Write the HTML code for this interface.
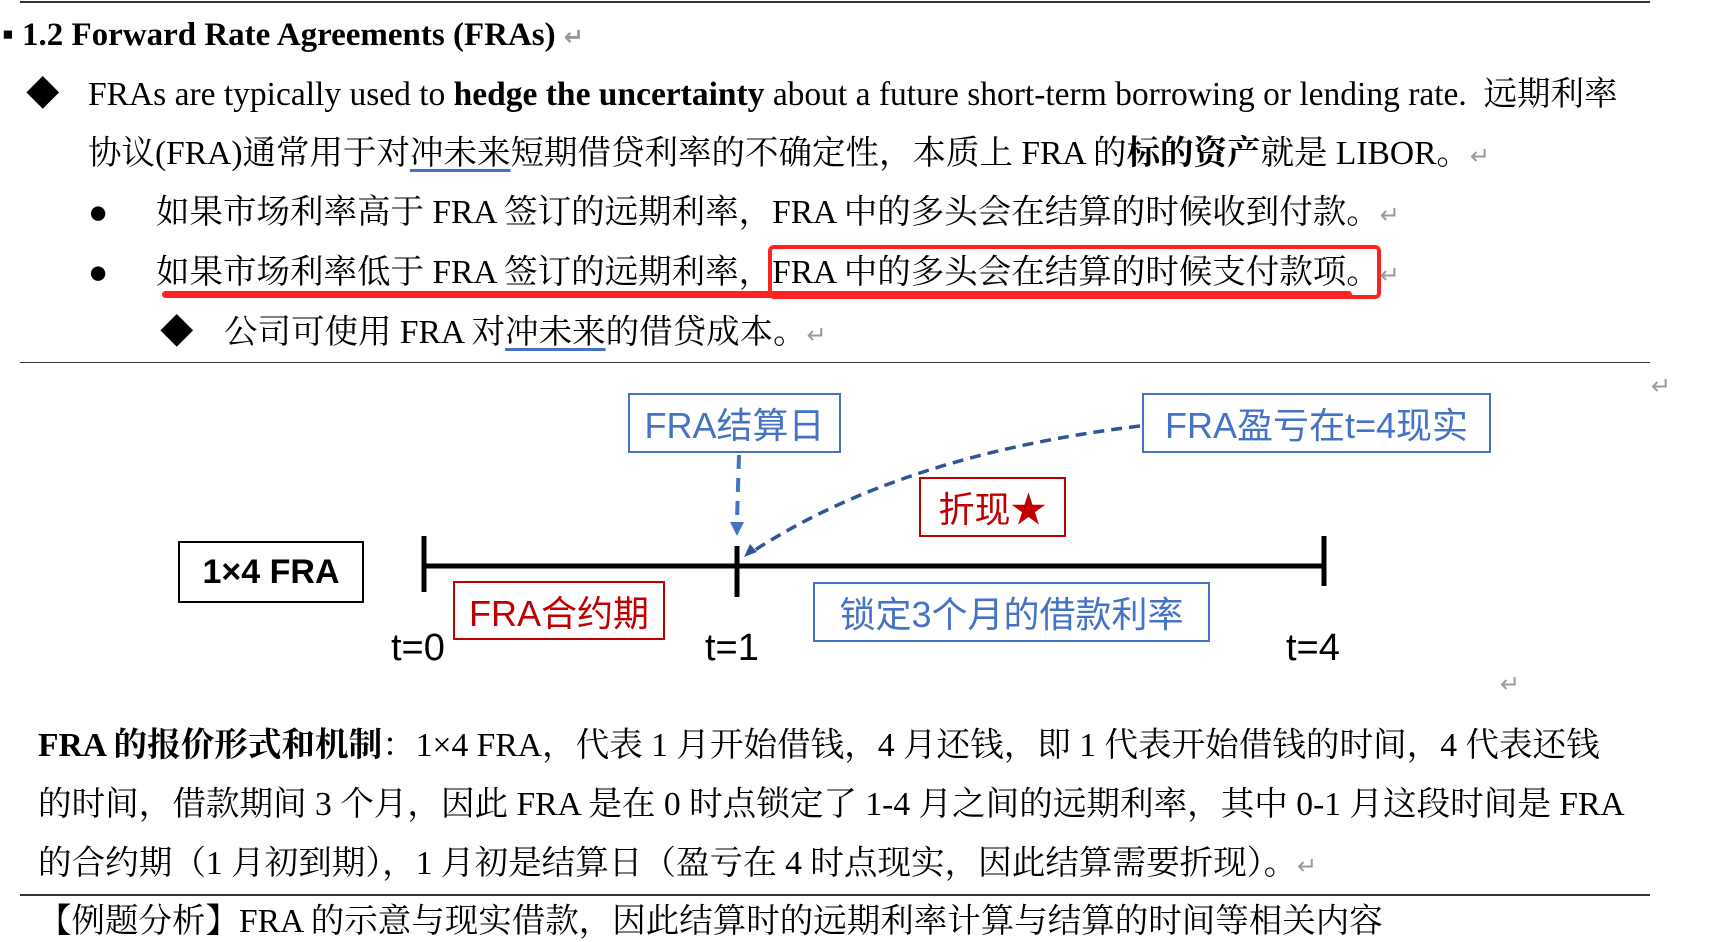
<!DOCTYPE html>
<html><head><meta charset="utf-8"><style>
body{margin:0;width:1715px;height:911px;overflow:hidden;background:#fff;position:relative;font-family:"Liberation Serif","Noto Serif CJK SC",serif;color:#000}
.t{position:absolute;white-space:nowrap;font-size:33.5px;line-height:40px}
.r{color:#999;font-family:"DejaVu Sans",sans-serif;font-size:24px}
.u{text-decoration:underline;text-decoration-color:#4472C4;text-underline-offset:5px}
.box{position:absolute;box-sizing:border-box;font-family:"Liberation Sans","Noto Sans CJK SC",sans-serif;font-size:36px;display:flex;align-items:center;justify-content:center;white-space:nowrap}
.blue{border:2px solid #4472C4;color:#4472C4}
.red{border:2px solid #C00000;color:#C00000}
.lab{position:absolute;font-family:"Liberation Sans","Noto Sans CJK SC",sans-serif;font-size:38px;line-height:40px;white-space:nowrap}
</style></head><body>
<div style="position:absolute;left:20px;top:1px;width:1630px;height:2px;background:#333"></div>
<div class="t" style="left:2px;top:15px;font-weight:bold;font-size:33px">▪ 1.2 Forward Rate Agreements (FRAs) <span class="r">↵</span></div>

<div class="t" style="left:26px;top:75px">◆</div>
<div class="t" style="left:88px;top:75px">FRAs are typically used to <b>hedge the uncertainty</b> about a future short-term borrowing or lending rate.&nbsp; 远期利率</div>
<div class="t" style="left:88px;top:134px">协议(FRA)通常用于对<span class="u">冲未来</span>短期借贷利率的不确定性，本质上 FRA 的<b>标的资产</b>就是 LIBOR。<span class="r">↵</span></div>

<div class="t" style="left:88px;top:193px">●</div>
<div class="t" style="left:156px;top:193px">如果市场利率高于 FRA 签订的远期利率，FRA 中的多头会在结算的时候收到付款。<span class="r">↵</span></div>
<div class="t" style="left:88px;top:253px">●</div>
<div class="t" style="left:156px;top:253px">如果市场利率低于 FRA 签订的远期利率，FRA 中的多头会在结算的时候支付款项。<span class="r">↵</span></div>
<div style="position:absolute;left:768px;top:245px;width:613px;height:54px;box-sizing:border-box;border:4px solid #f22;border-radius:6px"></div>
<div style="position:absolute;left:162px;top:291px;width:1190px;height:7px;background:#f22;border-radius:4px"></div>

<div class="t" style="left:160px;top:313px">◆</div>
<div class="t" style="left:224px;top:313px">公司可使用 FRA 对<span class="u">冲未来</span>的借贷成本。<span class="r">↵</span></div>

<div style="position:absolute;left:20px;top:362px;width:1630px;height:1px;background:#333"></div>
<div class="r" style="position:absolute;left:1651px;top:372px">↵</div>

<svg style="position:absolute;left:0;top:0" width="1715" height="911">
<g stroke="#000" stroke-width="5">
<line x1="424" y1="566" x2="1326" y2="566"/>
<line x1="424" y1="536" x2="424" y2="592"/>
<line x1="737" y1="546" x2="737" y2="597"/>
<line x1="1324" y1="536" x2="1324" y2="586"/>
</g>
<line x1="739" y1="455" x2="737" y2="520" stroke="#4472C4" stroke-width="4" stroke-dasharray="14,9"/>
<polygon points="730,522 744,522 737,536" fill="#4472C4"/>
<path d="M1140,426 Q900,455 752,552" fill="none" stroke="#2F5597" stroke-width="3.5" stroke-dasharray="11,7"/>
<polygon points="744,557 750,544 757,552" fill="#2F5597"/>
</svg>

<div class="box blue" style="left:628px;top:393px;width:213px;height:60px">FRA结算日</div>
<div class="box blue" style="left:1142px;top:393px;width:349px;height:60px">FRA盈亏在t=4现实</div>
<div class="box red" style="left:919px;top:477px;width:147px;height:60px">折现★</div>
<div class="box" style="left:178px;top:541px;width:186px;height:62px;border:2px solid #000;font-weight:bold;font-size:34px">1×4 FRA</div>
<div class="box red" style="left:453px;top:581px;width:212px;height:59px">FRA合约期</div>
<div class="box blue" style="left:813px;top:582px;width:397px;height:60px">锁定3个月的借款利率</div>
<div class="lab" style="left:391px;top:628px">t=0</div>
<div class="lab" style="left:705px;top:628px">t=1</div>
<div class="lab" style="left:1286px;top:628px">t=4</div>
<div class="r" style="position:absolute;left:1500px;top:670px">↵</div>

<div class="t" style="left:38px;top:726px;font-size:33.6px"><b>FRA 的报价形式和机制</b>：1×4 FRA，代表 1 月开始借钱，4 月还钱，即 1 代表开始借钱的时间，4 代表还钱</div>
<div class="t" style="left:38px;top:785px;font-size:33.6px">的时间，借款期间 3 个月，因此 FRA 是在 0 时点锁定了 1-4 月之间的远期利率，其中 0-1 月这段时间是 FRA</div>
<div class="t" style="left:38px;top:844px;font-size:33.6px">的合约期（1 月初到期），1 月初是结算日（盈亏在 4 时点现实，因此结算需要折现）。<span class="r">↵</span></div>
<div style="position:absolute;left:20px;top:894px;width:1630px;height:2px;background:#333"></div>
<div class="t" style="left:38px;top:902px">【例题分析】FRA 的示意与现实借款，因此结算时的远期利率计算与结算的时间等相关内容</div>
</body></html>
